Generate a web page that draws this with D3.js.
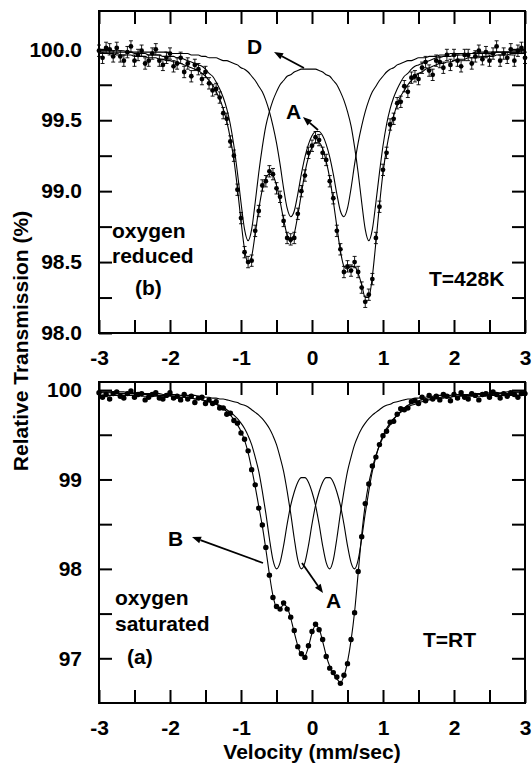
<!DOCTYPE html>
<html>
<head>
<meta charset="utf-8">
<script src="https://cdn.jsdelivr.net/npm/d3@7"></script>
<style>
  body { margin: 0; background: #fff; }
  svg text { font-family: "Liberation Sans", Arial, Helvetica, sans-serif; font-weight: bold; fill: #000; }
</style>
</head>
<body>
<svg id="chart" width="532" height="763"></svg>
<script>
// velocity channels, mm/sec (step 0.05)
var velocity = d3.range(121).map(function (i) { return +(-3 + i * 0.05).toFixed(2); });

var xTickValues = [-3, -2.5, -2, -1.5, -1, -0.5, 0, 0.5, 1, 1.5, 2, 2.5, 3];
var xTickLabels = ["-3", "-2", "-1", "0", "1", "2", "3"];

// (b) oxygen reduced, T=428K
var reducedData = [99.99, 99.94, 100.01, 100.00, 99.95, 100.01, 99.95, 99.92, 99.98, 100.02,
  99.92, 99.96, 99.99, 99.90, 99.92, 99.97, 100.00, 99.92, 99.89, 99.94,
  99.97, 99.88, 99.90, 99.94, 99.84, 99.90, 99.81, 99.89, 99.86, 99.79,
  99.84, 99.76, 99.71, 99.72, 99.66, 99.55, 99.51, 99.35, 99.25, 99.01,
  98.81, 98.57, 98.50, 98.51, 98.72, 98.86, 99.04, 99.07, 99.14, 99.12,
  99.02, 98.96, 98.79, 98.67, 98.66, 98.67, 98.84, 99.00, 99.11, 99.27,
  99.32, 99.38, 99.36, 99.27, 99.22, 99.07, 98.95, 98.72, 98.59, 98.43,
  98.47, 98.44, 98.50, 98.43, 98.32, 98.22, 98.27, 98.38, 98.67, 98.89,
  99.15, 99.27, 99.47, 99.51, 99.62, 99.63, 99.74, 99.70, 99.80, 99.81,
  99.79, 99.87, 99.91, 99.85, 99.82, 99.92, 99.91, 99.87, 99.96, 99.89,
  99.96, 99.92, 99.88, 99.96, 99.96, 99.90, 99.95, 99.99, 99.93, 99.98,
  99.92, 99.97, 100.02, 99.92, 99.97, 99.94, 100.00, 99.92, 99.99, 100.01,
  99.94];
var reducedFit = [99.97, 99.97, 99.97, 99.97, 99.97, 99.96, 99.96, 99.96, 99.96, 99.96,
  99.95, 99.95, 99.95, 99.95, 99.94, 99.94, 99.94, 99.93, 99.93, 99.92,
  99.92, 99.91, 99.91, 99.90, 99.89, 99.88, 99.87, 99.86, 99.85, 99.83,
  99.81, 99.78, 99.75, 99.70, 99.65, 99.58, 99.49, 99.37, 99.22, 99.02,
  98.79, 98.59, 98.49, 98.54, 98.70, 98.87, 99.01, 99.09, 99.12, 99.11,
  99.04, 98.93, 98.80, 98.69, 98.64, 98.70, 98.83, 98.98, 99.13, 99.24,
  99.31, 99.34, 99.34, 99.30, 99.21, 99.09, 98.93, 98.75, 98.58, 98.47,
  98.45, 98.47, 98.47, 98.42, 98.34, 98.25, 98.25, 98.40, 98.64, 98.90,
  99.13, 99.30, 99.43, 99.53, 99.61, 99.67, 99.71, 99.75, 99.78, 99.80,
  99.83, 99.84, 99.86, 99.87, 99.88, 99.89, 99.90, 99.90, 99.91, 99.91,
  99.92, 99.93, 99.93, 99.93, 99.94, 99.94, 99.94, 99.94, 99.95, 99.95,
  99.95, 99.95, 99.96, 99.96, 99.96, 99.96, 99.97, 99.97, 99.97, 99.97,
  99.97];
var reducedD = [99.98, 99.98, 99.98, 99.98, 99.98, 99.98, 99.98, 99.98, 99.98, 99.98,
  99.97, 99.97, 99.97, 99.97, 99.96, 99.96, 99.96, 99.96, 99.95, 99.95,
  99.95, 99.95, 99.94, 99.94, 99.93, 99.92, 99.91, 99.90, 99.89, 99.88,
  99.86, 99.83, 99.81, 99.77, 99.72, 99.66, 99.58, 99.47, 99.32, 99.13,
  98.92, 98.73, 98.65, 98.73, 98.92, 99.13, 99.31, 99.46, 99.56, 99.64,
  99.70, 99.75, 99.78, 99.81, 99.82, 99.84, 99.85, 99.86, 99.86, 99.86,
  99.86, 99.86, 99.85, 99.84, 99.82, 99.81, 99.78, 99.75, 99.70, 99.64,
  99.56, 99.46, 99.31, 99.13, 98.92, 98.73, 98.65, 98.73, 98.92, 99.13,
  99.32, 99.47, 99.58, 99.66, 99.72, 99.77, 99.81, 99.83, 99.86, 99.88,
  99.89, 99.90, 99.91, 99.92, 99.93, 99.94, 99.94, 99.95, 99.95, 99.95,
  99.96, 99.96, 99.96, 99.96, 99.97, 99.97, 99.97, 99.97, 99.97, 99.97,
  99.97, 99.97, 99.98, 99.98, 99.98, 99.98, 99.98, 99.98, 99.98, 99.98,
  99.98];
var reducedA = [99.99, 99.99, 99.99, 99.99, 99.99, 99.99, 99.99, 99.99, 99.98, 99.98,
  99.98, 99.98, 99.98, 99.98, 99.98, 99.98, 99.98, 99.98, 99.98, 99.98,
  99.97, 99.97, 99.97, 99.97, 99.97, 99.97, 99.96, 99.96, 99.96, 99.95,
  99.95, 99.94, 99.94, 99.94, 99.93, 99.92, 99.92, 99.91, 99.90, 99.89,
  99.87, 99.86, 99.84, 99.81, 99.78, 99.74, 99.70, 99.64, 99.56, 99.46,
  99.34, 99.19, 99.02, 98.88, 98.82, 98.86, 98.98, 99.12, 99.24, 99.33,
  99.39, 99.42, 99.42, 99.39, 99.33, 99.24, 99.12, 98.98, 98.86, 98.82,
  98.88, 99.02, 99.19, 99.34, 99.46, 99.56, 99.64, 99.70, 99.74, 99.78,
  99.81, 99.84, 99.86, 99.87, 99.89, 99.90, 99.91, 99.92, 99.92, 99.93,
  99.94, 99.94, 99.94, 99.95, 99.95, 99.95, 99.96, 99.96, 99.96, 99.97,
  99.97, 99.97, 99.97, 99.97, 99.97, 99.97, 99.98, 99.98, 99.98, 99.98,
  99.98, 99.98, 99.98, 99.98, 99.98, 99.98, 99.98, 99.98, 99.98, 99.99,
  99.99];
var reducedErr = 0.04;

// (a) oxygen saturated, T=RT
var saturatedData = [99.97, 99.92, 99.95, 99.90, 99.96, 99.98, 99.93, 99.91, 99.96, 99.99,
  99.92, 99.95, 99.96, 99.89, 99.92, 99.95, 99.97, 99.91, 99.90, 99.94,
  99.97, 99.91, 99.93, 99.89, 99.95, 99.90, 99.93, 99.86, 99.91, 99.92,
  99.85, 99.89, 99.85, 99.87, 99.80, 99.80, 99.73, 99.74, 99.66, 99.63,
  99.52, 99.45, 99.32, 99.11, 98.94, 98.68, 98.49, 98.24, 97.93, 97.68,
  97.58, 97.55, 97.62, 97.55, 97.46, 97.31, 97.13, 97.05, 97.01, 97.14,
  97.30, 97.38, 97.32, 97.21, 97.02, 96.89, 96.84, 96.79, 96.72, 96.81,
  96.94, 97.21, 97.51, 97.97, 98.36, 98.73, 98.95, 99.15, 99.25, 99.39,
  99.49, 99.54, 99.64, 99.65, 99.73, 99.79, 99.78, 99.80, 99.87, 99.88,
  99.85, 99.92, 99.88, 99.94, 99.90, 99.93, 99.89, 99.95, 99.93, 99.88,
  99.95, 99.91, 99.97, 99.92, 99.90, 99.96, 99.94, 99.89, 99.95, 99.96,
  99.92, 99.98, 99.95, 99.91, 99.96, 99.93, 99.97, 99.95, 99.92, 99.96,
  99.96];
var saturatedFit = [99.94, 99.94, 99.94, 99.94, 99.94, 99.94, 99.94, 99.94, 99.94, 99.94,
  99.94, 99.94, 99.93, 99.93, 99.93, 99.93, 99.93, 99.93, 99.93, 99.93,
  99.93, 99.93, 99.92, 99.92, 99.92, 99.91, 99.91, 99.90, 99.90, 99.89,
  99.88, 99.87, 99.86, 99.84, 99.82, 99.79, 99.76, 99.72, 99.67, 99.61,
  99.54, 99.44, 99.30, 99.12, 98.92, 98.70, 98.48, 98.22, 97.94, 97.70,
  97.57, 97.56, 97.60, 97.57, 97.45, 97.29, 97.14, 97.04, 97.03, 97.13,
  97.28, 97.37, 97.33, 97.19, 97.03, 96.91, 96.83, 96.77, 96.73, 96.80,
  96.96, 97.20, 97.52, 97.95, 98.38, 98.72, 98.96, 99.13, 99.27, 99.38,
  99.47, 99.55, 99.61, 99.67, 99.72, 99.76, 99.80, 99.83, 99.85, 99.87,
  99.88, 99.89, 99.90, 99.90, 99.91, 99.91, 99.92, 99.92, 99.92, 99.92,
  99.93, 99.93, 99.93, 99.93, 99.93, 99.93, 99.93, 99.93, 99.93, 99.93,
  99.94, 99.94, 99.94, 99.94, 99.94, 99.94, 99.94, 99.94, 99.94, 99.94,
  99.95];
var saturatedB = [99.98, 99.97, 99.97, 99.97, 99.97, 99.97, 99.96, 99.96, 99.96, 99.96,
  99.96, 99.95, 99.95, 99.95, 99.95, 99.95, 99.94, 99.94, 99.94, 99.94,
  99.94, 99.93, 99.93, 99.92, 99.92, 99.91, 99.91, 99.90, 99.90, 99.89,
  99.88, 99.87, 99.86, 99.84, 99.83, 99.81, 99.78, 99.75, 99.72, 99.68,
  99.63, 99.57, 99.49, 99.39, 99.25, 99.09, 98.87, 98.62, 98.34, 98.10,
  98.00, 98.07, 98.26, 98.50, 98.71, 98.86, 98.97, 99.02, 99.02, 98.97,
  98.86, 98.71, 98.50, 98.26, 98.07, 98.00, 98.10, 98.34, 98.62, 98.87,
  99.09, 99.25, 99.39, 99.49, 99.57, 99.63, 99.68, 99.72, 99.75, 99.78,
  99.81, 99.83, 99.84, 99.86, 99.87, 99.88, 99.89, 99.90, 99.90, 99.91,
  99.91, 99.92, 99.92, 99.93, 99.93, 99.94, 99.94, 99.94, 99.94, 99.94,
  99.95, 99.95, 99.95, 99.95, 99.95, 99.96, 99.96, 99.96, 99.96, 99.96,
  99.97, 99.97, 99.97, 99.97, 99.97, 99.98, 99.98, 99.98, 99.98, 99.98,
  99.98];
var saturatedA = [99.98, 99.98, 99.98, 99.98, 99.98, 99.98, 99.98, 99.98, 99.97, 99.97,
  99.97, 99.97, 99.97, 99.96, 99.96, 99.96, 99.96, 99.96, 99.95, 99.95,
  99.95, 99.95, 99.95, 99.94, 99.94, 99.94, 99.94, 99.94, 99.93, 99.93,
  99.92, 99.92, 99.91, 99.91, 99.90, 99.90, 99.89, 99.88, 99.87, 99.86,
  99.84, 99.83, 99.81, 99.78, 99.75, 99.72, 99.68, 99.63, 99.57, 99.49,
  99.39, 99.25, 99.09, 98.87, 98.62, 98.34, 98.10, 98.00, 98.07, 98.26,
  98.50, 98.71, 98.86, 98.97, 99.02, 99.02, 98.97, 98.86, 98.71, 98.50,
  98.26, 98.07, 98.00, 98.10, 98.34, 98.62, 98.87, 99.09, 99.25, 99.39,
  99.49, 99.57, 99.63, 99.68, 99.72, 99.75, 99.78, 99.81, 99.83, 99.84,
  99.86, 99.87, 99.88, 99.89, 99.90, 99.90, 99.91, 99.91, 99.92, 99.92,
  99.93, 99.93, 99.94, 99.94, 99.94, 99.94, 99.94, 99.95, 99.95, 99.95,
  99.95, 99.95, 99.96, 99.96, 99.96, 99.96, 99.96, 99.97, 99.97, 99.97,
  99.97];
var saturatedErr = 0.015;

var svg = d3.select('#chart');
var x = d3.scaleLinear().domain([-3, 3]).range([99, 525]);

var panels = [
  {
    top: 11, bottom: 333, yDomain: [98.0, 100.27],
    yTicks: [98.25, 98.5, 98.75, 99, 99.25, 99.5, 99.75, 100],
    yLabels: [98.0, 98.5, 99.0, 99.5, 100.0], yFmt: d3.format('.1f'),
    data: reducedData, err: reducedErr, r: 2.4, fits: [reducedFit, reducedD, reducedA],
    notes: [
      { t: 'D', x: -0.915, y: 99.97 },
      { t: 'A', x: -0.366, y: 99.51 },
      { t: 'oxygen', x: -2.817, y: 98.67 },
      { t: 'reduced', x: -2.817, y: 98.49 },
      { t: '(b)', x: -2.493, y: 98.27 },
      { t: 'T=428K', x: 1.648, y: 98.33 }
    ],
    arrows: [
      { x1: -0.113, y1: 99.868, x2: -0.535, y2: 99.981 },
      { x1: 0.085, y1: 99.431, x2: -0.127, y2: 99.523 }
    ]
  },
  {
    top: 382, bottom: 703, yDomain: [96.5, 100.09],
    yTicks: [97, 97.5, 98, 98.5, 99, 99.5, 100],
    yLabels: [97, 98, 99, 100], yFmt: d3.format('d'),
    data: saturatedData, err: saturatedErr, r: 2.7, fits: [saturatedFit, saturatedB, saturatedA],
    notes: [
      { t: 'B', x: -2.028, y: 98.256 },
      { t: 'A', x: 0.197, y: 97.559 },
      { t: 'oxygen', x: -2.775, y: 97.596 },
      { t: 'saturated', x: -2.775, y: 97.309 },
      { t: '(a)', x: -2.606, y: 96.936 },
      { t: 'T=RT', x: 1.563, y: 97.13 }
    ],
    arrows: [
      { x1: -0.69, y1: 98.066, x2: -1.69, y2: 98.357 },
      { x1: -0.141, y1: 98.066, x2: 0.155, y2: 97.73 }
    ]
  }
];

function styleAxis(g) {
  g.select('.domain').remove();
  g.selectAll('.tick line').attr('stroke', '#000').attr('stroke-width', 2);
  g.selectAll('.tick text').attr('font-size', 21).attr('font-family', null).attr('fill', '#000');
}

panels.forEach(function (p) {
  var y = d3.scaleLinear().domain(p.yDomain).range([p.bottom, p.top]);
  var g = svg.append('g');

  var fmtX = function (d) {
    return Number.isInteger(d) ? xTickLabels[d + 3] : '';
  };
  var fmtY = function (d) {
    return p.yLabels.indexOf(d) >= 0 ? p.yFmt(d) : '';
  };

  g.append('g').attr('transform', 'translate(0,' + p.bottom + ')')
    .call(d3.axisBottom(x).tickValues(xTickValues).tickSize(-13).tickSizeOuter(0).tickPadding(17).tickFormat(fmtX))
    .call(styleAxis);
  g.append('g').attr('transform', 'translate(0,' + p.top + ')')
    .call(d3.axisTop(x).tickValues(xTickValues).tickSize(-13).tickSizeOuter(0).tickFormat(''))
    .call(styleAxis);
  g.append('g').attr('transform', 'translate(99,0)')
    .call(d3.axisLeft(y).tickValues(p.yLabels.concat(p.yTicks).filter(function (v, i, a) { return a.indexOf(v) === i; }))
      .tickSize(-13).tickSizeOuter(0).tickPadding(17).tickFormat(fmtY))
    .call(styleAxis);
  g.append('g').attr('transform', 'translate(525,0)')
    .call(d3.axisRight(y).tickValues(p.yTicks).tickSize(-13).tickSizeOuter(0).tickFormat(''))
    .call(styleAxis);

  g.append('rect')
    .attr('x', 99).attr('y', p.top)
    .attr('width', 426).attr('height', p.bottom - p.top)
    .attr('fill', 'none').attr('stroke', '#000').attr('stroke-width', 2);

  // fitted curves
  var line = d3.line()
    .x(function (d, i) { return x(velocity[i]); })
    .y(function (d) { return y(d); })
    .curve(d3.curveMonotoneX);
  g.selectAll('path.fit')
    .data(p.fits)
    .enter().append('path')
    .attr('class', 'fit')
    .attr('d', line)
    .attr('fill', 'none')
    .attr('stroke', '#000')
    .attr('stroke-width', 1.1);

  // error bars + points
  var pts = g.selectAll('g.pt')
    .data(p.data)
    .enter().append('g')
    .attr('class', 'pt');
  pts.append('line')
    .attr('x1', function (d, i) { return x(velocity[i]); })
    .attr('x2', function (d, i) { return x(velocity[i]); })
    .attr('y1', function (d) { return y(d - p.err); })
    .attr('y2', function (d) { return y(d + p.err); })
    .attr('stroke', '#000').attr('stroke-width', 0.9);
  [-1, 1].forEach(function (s) {
    pts.append('line')
      .attr('x1', function (d, i) { return x(velocity[i]) - 2; })
      .attr('x2', function (d, i) { return x(velocity[i]) + 2; })
      .attr('y1', function (d) { return y(d + s * p.err); })
      .attr('y2', function (d) { return y(d + s * p.err); })
      .attr('stroke', '#000').attr('stroke-width', 0.9);
  });
  pts.append('circle')
    .attr('cx', function (d, i) { return x(velocity[i]); })
    .attr('cy', function (d) { return y(d); })
    .attr('r', p.r)
    .attr('fill', '#000');

  // labels
  g.selectAll('text.note')
    .data(p.notes)
    .enter().append('text')
    .attr('class', 'note')
    .attr('x', function (d) { return x(d.x); })
    .attr('y', function (d) { return y(d.y); })
    .attr('font-size', 21)
    .text(function (d) { return d.t; });

  // arrows
  p.arrows.forEach(function (a) {
    var x1 = x(a.x1), y1 = y(a.y1), x2 = x(a.x2), y2 = y(a.y2);
    var ang = Math.atan2(y2 - y1, x2 - x1);
    var hl = 9, hw = 3.5;
    var bx = x2 - hl * Math.cos(ang), by = y2 - hl * Math.sin(ang);
    g.append('line')
      .attr('x1', x1).attr('y1', y1).attr('x2', bx).attr('y2', by)
      .attr('stroke', '#000').attr('stroke-width', 1.8);
    g.append('path')
      .attr('d', 'M' + x2 + ',' + y2 +
        'L' + (bx + hw * Math.sin(ang)) + ',' + (by - hw * Math.cos(ang)) +
        'L' + (bx - hw * Math.sin(ang)) + ',' + (by + hw * Math.cos(ang)) + 'Z')
      .attr('fill', '#000');
  });
});

// axis titles
svg.append('text')
  .attr('transform', 'translate(28,341) rotate(-90)')
  .attr('text-anchor', 'middle')
  .attr('font-size', 21)
  .text('Relative Transmission (%)');

svg.append('text')
  .attr('x', 312).attr('y', 759)
  .attr('text-anchor', 'middle')
  .attr('font-size', 21)
  .text('Velocity (mm/sec)');
</script>
</body>
</html>
